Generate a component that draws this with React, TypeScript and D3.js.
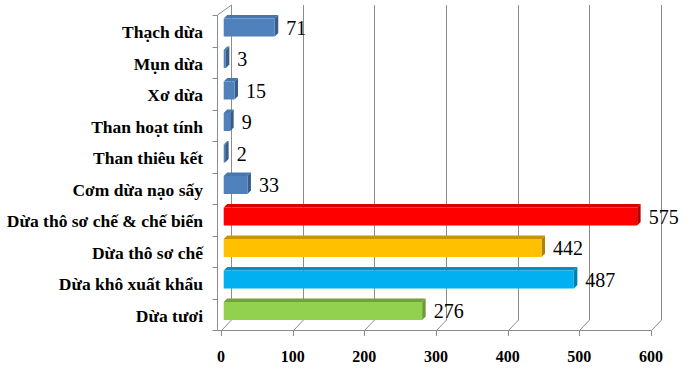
import React, { useEffect, useRef } from 'react';
import * as d3 from 'd3';

// categories top -> bottom
const categories = [
  'Thạch dừa',
  'Mụn dừa',
  'Xơ dừa',
  'Than hoạt tính',
  'Than thiêu kết',
  'Cơm dừa nạo sấy',
  'Dừa thô sơ chế & chế biến',
  'Dừa thô sơ chế',
  'Dừa khô xuất khẩu',
  'Dừa tươi',
];
const values = [71, 3, 15, 9, 2, 33, 575, 442, 487, 276];
const barColors = ['blue', 'blue', 'blue', 'blue', 'blue', 'blue', 'red', 'yellow', 'cyan', 'green'];
const xTicks = [0, 100, 200, 300, 400, 500, 600];

const palette: Record<string, { front: string; top: string; side: string }> = {
  blue: { front: '#4F81BD', top: '#4677B0', side: '#385D8A' },
  red: { front: '#FF0000', top: '#DD0000', side: '#B80000' },
  yellow: { front: '#FFC000', top: '#C89600', side: '#B08400' },
  cyan: { front: '#00B0F0', top: '#0090C8', side: '#007FB2' },
  green: { front: '#92D050', top: '#72A23C', side: '#6A9A36' },
};

const FONT = "'Times New Roman', Times, 'Liberation Serif', 'DejaVu Serif', serif";

const App = () => {
  const svgRef = useRef<SVGSVGElement>(null);

  useEffect(() => {
    const svg = d3.select(svgRef.current);
    svg.selectAll('*').remove();

    const width = 692;
    const height = 372;
    const depth = 10; // wall offset (back vs front)
    const barDepth = 3.5;
    const gridColor = '#8C8C8C';

    svg.attr('width', width).attr('height', height);

    const y = d3.scaleBand().domain(categories).range([15, 330]).padding(0);
    const xFront = d3.scaleLinear().domain([0, 600]).range([221, 651]);
    const xBack = d3.scaleLinear().domain([0, 600]).range([221 + depth, 651 + depth]);
    const xBar = d3.scaleLinear().domain([0, 600]).range([223.7, 223.7 + 431.4]);

    const floorY = 330;
    const backBottom = floorY - depth;
    const backTop = 5;

    // back wall gridlines
    const grid = svg.append('g').attr('stroke', gridColor).attr('stroke-width', 1).attr('fill', 'none');
    grid
      .selectAll('line.v')
      .data(xTicks)
      .join('line')
      .attr('class', 'v')
      .attr('x1', (d) => Math.round(xBack(d)) + 0.5)
      .attr('x2', (d) => Math.round(xBack(d)) + 0.5)
      .attr('y1', backTop)
      .attr('y2', backBottom);

    // floor diagonals
    grid
      .selectAll('line.f')
      .data(xTicks)
      .join('line')
      .attr('class', 'f')
      .attr('x1', (d) => Math.round(xBack(d)) + 0.5)
      .attr('y1', backBottom)
      .attr('x2', (d) => Math.round(xFront(d)) + 0.5)
      .attr('y2', floorY + 0.5);

    // left axis + top-left edge
    const axisX = 217.5;
    grid.append('line').attr('x1', axisX).attr('x2', axisX).attr('y1', 15).attr('y2', floorY);
    grid
      .append('line')
      .attr('x1', axisX)
      .attr('y1', 15)
      .attr('x2', Math.round(xBack(0)) + 0.5)
      .attr('y2', backTop);
    const catTicks = categories.map((c) => y(c) as number).concat([floorY]);
    grid
      .selectAll('line.ct')
      .data(catTicks)
      .join('line')
      .attr('class', 'ct')
      .attr('x1', axisX - 5)
      .attr('x2', axisX)
      .attr('y1', (d) => Math.round(d) + 0.5)
      .attr('y2', (d) => Math.round(d) + 0.5);

    // bottom axis
    grid
      .append('line')
      .attr('x1', axisX - 4)
      .attr('x2', xFront(600) + 1)
      .attr('y1', floorY + 0.5)
      .attr('y2', floorY + 0.5);
    grid
      .selectAll('line.xt')
      .data(xTicks)
      .join('line')
      .attr('class', 'xt')
      .attr('x1', (d) => Math.round(xFront(d)) + 0.5)
      .attr('x2', (d) => Math.round(xFront(d)) + 0.5)
      .attr('y1', floorY)
      .attr('y2', floorY + 6);

    svg
      .append('g')
      .selectAll('text')
      .data(xTicks)
      .join('text')
      .attr('x', (d) => xFront(d))
      .attr('y', 362)
      .attr('text-anchor', 'middle')
      .style('font-family', FONT)
      .style('font-weight', 'bold')
      .style('font-size', '16px')
      .text((d) => d);

    // category labels
    svg
      .append('g')
      .selectAll('text')
      .data(categories)
      .join('text')
      .attr('x', 203)
      .attr('y', (d) => (y(d) as number) + y.bandwidth() / 2 + 7.5)
      .attr('text-anchor', 'end')
      .style('font-family', FONT)
      .style('font-weight', 'bold')
      .style('font-size', '17.5px')
      .text((d) => d);

    // bars
    const rows = categories.map((c, i) => ({ c, v: values[i], col: palette[barColors[i]] }));
    const bars = svg.append('g').selectAll('g').data(rows).join('g');

    const top = (d: any) => (y(d.c) as number) + 3.5;
    const bot = (d: any) => (y(d.c) as number) + 21.5;
    const x0 = xBar(0);

    bars
      .append('polygon')
      .attr('fill', (d) => d.col.top)
      .attr('points', (d) => {
        const x1 = xBar(d.v);
        const t = top(d);
        return `${x0},${t} ${x1},${t} ${x1 + barDepth},${t - barDepth} ${x0 + barDepth},${t - barDepth}`;
      });
    bars
      .append('polygon')
      .attr('fill', (d) => d.col.side)
      .attr('points', (d) => {
        const x1 = xBar(d.v);
        const t = top(d);
        const b = bot(d);
        return `${x1},${t} ${x1 + barDepth},${t - barDepth} ${x1 + barDepth},${b - barDepth} ${x1},${b}`;
      });
    bars
      .append('rect')
      .attr('fill', (d) => d.col.front)
      .attr('x', x0)
      .attr('y', (d) => top(d))
      .attr('width', (d) => xBar(d.v) - x0)
      .attr('height', 18);

    // value labels
    bars
      .append('text')
      .attr('x', (d) => xBar(d.v) + barDepth + 8)
      .attr('y', (d) => top(d) + 9 + 7)
      .style('font-family', FONT)
      .style('font-size', '20px')
      .attr('fill', '#000')
      .text((d) => d.v);
  }, []);

  return (
    <svg
      ref={svgRef}
      style={{ position: 'absolute', left: 0, top: 0, background: '#fff', display: 'block' }}
    />
  );
};

export default App;
